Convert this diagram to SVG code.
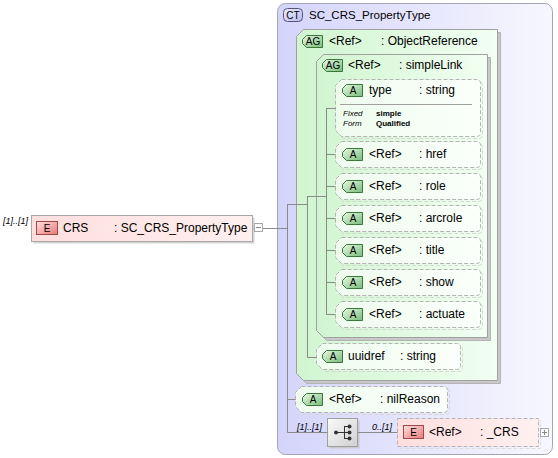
<svg xmlns="http://www.w3.org/2000/svg" width="558" height="458" viewBox="0 0 558 458">
<defs>
<linearGradient id="gCT" x1="0" y1="0" x2="1" y2="0"><stop offset="0" stop-color="#d4d4fb"/><stop offset="1" stop-color="#f7f7ff"/></linearGradient>
<linearGradient id="gAG" x1="0" y1="0" x2="1" y2="0"><stop offset="0" stop-color="#d0f5d0"/><stop offset="1" stop-color="#f2fff2"/></linearGradient>
<linearGradient id="gAttr" x1="0" y1="0" x2="1" y2="0"><stop offset="0" stop-color="#eefcee"/><stop offset="1" stop-color="#fbfffb"/></linearGradient>
<linearGradient id="gBadgeA" x1="0" y1="0" x2="1" y2="1"><stop offset="0" stop-color="#e8fae8"/><stop offset="1" stop-color="#78bc78"/></linearGradient>
<linearGradient id="gElem" x1="0" y1="0" x2="1" y2="0"><stop offset="0" stop-color="#ffdede"/><stop offset="1" stop-color="#fff0f0"/></linearGradient>
<linearGradient id="gBadgeE" x1="0" y1="0" x2="1" y2="1"><stop offset="0" stop-color="#ffe0e0"/><stop offset="1" stop-color="#e87878"/></linearGradient>
<linearGradient id="gBadgeCT" x1="0" y1="0" x2="1" y2="1"><stop offset="0" stop-color="#eeeeff"/><stop offset="1" stop-color="#b8b8ee"/></linearGradient>
<linearGradient id="gSeq" x1="0" y1="0" x2="1" y2="1"><stop offset="0" stop-color="#fafafa"/><stop offset="1" stop-color="#d0d0d0"/></linearGradient>
</defs>
<style>
text{font-family:"Liberation Sans",Arial,sans-serif;fill:#000}
.lbl{font-size:12px}
.hdr{font-size:11.5px}
.card{font-size:9px;font-style:italic}
.det{font-size:8px;font-weight:bold}
.deti{font-size:8px;font-style:italic}
.badge{font-size:10px;text-anchor:middle}
.conn{stroke:#8a8a8a;stroke-width:1;fill:none}
.attr{fill:url(#gAttr);stroke:#b4b4b4;stroke-dasharray:4,2}
.attrsh{fill:none;stroke:#d6d6d6;stroke-dasharray:4,2}
.bA{fill:url(#gBadgeA);stroke:#3c763c}
.bE{fill:url(#gBadgeE);stroke:#a04848}
.ag{fill:url(#gAG);stroke:#a0a0a0}
.agsh{fill:#c8c8c8;stroke:#b4b4b4}
.pm{fill:#fff;stroke:#a8a8a8}
</style>

<g id="ct-SC_CRS_PropertyType">
<rect x="277.5" y="3.5" width="275" height="451" rx="8" fill="url(#gCT)" stroke="#a4a4b4"/>
<rect x="283.5" y="8.5" width="19" height="13" rx="4" fill="url(#gBadgeCT)" stroke="#555577"/>
<text class="badge" x="293" y="19">CT</text>
<text class="hdr" x="309" y="19">SC_CRS_PropertyType</text>
</g>

<g id="ag-ObjectReference">
<path class="agsh" d="M306.5,32.5 H500.5 V383.5 H306.5 L299.5,376.5 V39.5 Z"/>
<path class="ag" d="M303.5,29.5 H497.5 V380.5 H303.5 L296.5,373.5 V36.5 Z"/>
<path class="bA" d="M306.5,35.5 H322.5 V47.5 H306.5 L302.5,43.5 V39.5 Z"/>
<text class="badge" x="313" y="45">AG</text>
<text class="lbl" x="329" y="45">&lt;Ref&gt;</text>
<text class="lbl" x="381" y="45">: ObjectReference</text>
</g>

<g id="ag-simpleLink">
<path class="agsh" d="M326.5,57.5 H490.5 V340.5 H326.5 L319.5,333.5 V64.5 Z"/>
<path class="ag" d="M323.5,54.5 H487.5 V337.5 H323.5 L316.5,330.5 V61.5 Z"/>
<path class="bA" d="M326.5,59.5 H342.5 V71.5 H326.5 L322.5,67.5 V63.5 Z"/>
<text class="badge" x="333" y="69">AG</text>
<text class="lbl" x="348" y="69">&lt;Ref&gt;</text>
<text class="lbl" x="399" y="69">: simpleLink</text>
</g>

<g id="attr-type">
<path class="attrsh" d="M343.5,81.5 H478.5 Q482.5,81.5 482.5,85.5 V134.5 Q482.5,138.5 478.5,138.5 H343.5 L337.5,132.5 V87.5 Z"/>
<path class="attr" d="M341.5,79.5 H476.5 Q480.5,79.5 480.5,83.5 V132.5 Q480.5,136.5 476.5,136.5 H341.5 L335.5,130.5 V85.5 Z"/>
<path class="bA" d="M346.5,84.5 H362.5 V96.5 H346.5 L342.5,92.5 V88.5 Z"/>
<text class="badge" x="353" y="94">A</text>
<text class="lbl" x="369" y="94">type</text>
<text class="lbl" x="419" y="94">: string</text>
<line x1="340" y1="104.5" x2="472" y2="104.5" stroke="#a0a0a0"/>
<text class="deti" x="343" y="116">Fixed</text>
<text class="det" x="376" y="116">simple</text>
<text class="deti" x="343" y="126">Form</text>
<text class="det" x="376" y="126">Qualified</text>
</g>

<g id="attr-href">
<path class="attrsh" d="M343.5,143.5 H478.5 Q482.5,143.5 482.5,147.5 V165.5 Q482.5,169.5 478.5,169.5 H343.5 L337.5,163.5 V149.5 Z"/>
<path class="attr" d="M341.5,141.5 H476.5 Q480.5,141.5 480.5,145.5 V163.5 Q480.5,167.5 476.5,167.5 H341.5 L335.5,161.5 V147.5 Z"/>
<path class="bA" d="M346.5,148.5 H362.5 V160.5 H346.5 L342.5,156.5 V152.5 Z"/>
<text class="badge" x="353" y="158">A</text>
<text class="lbl" x="369" y="158">&lt;Ref&gt;</text>
<text class="lbl" x="419" y="158">: href</text>
</g>

<g id="attr-role">
<path class="attrsh" d="M343.5,175.5 H478.5 Q482.5,175.5 482.5,179.5 V197.5 Q482.5,201.5 478.5,201.5 H343.5 L337.5,195.5 V181.5 Z"/>
<path class="attr" d="M341.5,173.5 H476.5 Q480.5,173.5 480.5,177.5 V195.5 Q480.5,199.5 476.5,199.5 H341.5 L335.5,193.5 V179.5 Z"/>
<path class="bA" d="M346.5,180.5 H362.5 V192.5 H346.5 L342.5,188.5 V184.5 Z"/>
<text class="badge" x="353" y="190">A</text>
<text class="lbl" x="369" y="190">&lt;Ref&gt;</text>
<text class="lbl" x="419" y="190">: role</text>
</g>

<g id="attr-arcrole">
<path class="attrsh" d="M343.5,207.5 H478.5 Q482.5,207.5 482.5,211.5 V229.5 Q482.5,233.5 478.5,233.5 H343.5 L337.5,227.5 V213.5 Z"/>
<path class="attr" d="M341.5,205.5 H476.5 Q480.5,205.5 480.5,209.5 V227.5 Q480.5,231.5 476.5,231.5 H341.5 L335.5,225.5 V211.5 Z"/>
<path class="bA" d="M346.5,212.5 H362.5 V224.5 H346.5 L342.5,220.5 V216.5 Z"/>
<text class="badge" x="353" y="222">A</text>
<text class="lbl" x="369" y="222">&lt;Ref&gt;</text>
<text class="lbl" x="419" y="222">: arcrole</text>
</g>

<g id="attr-title">
<path class="attrsh" d="M343.5,239.5 H478.5 Q482.5,239.5 482.5,243.5 V261.5 Q482.5,265.5 478.5,265.5 H343.5 L337.5,259.5 V245.5 Z"/>
<path class="attr" d="M341.5,237.5 H476.5 Q480.5,237.5 480.5,241.5 V259.5 Q480.5,263.5 476.5,263.5 H341.5 L335.5,257.5 V243.5 Z"/>
<path class="bA" d="M346.5,244.5 H362.5 V256.5 H346.5 L342.5,252.5 V248.5 Z"/>
<text class="badge" x="353" y="254">A</text>
<text class="lbl" x="369" y="254">&lt;Ref&gt;</text>
<text class="lbl" x="419" y="254">: title</text>
</g>

<g id="attr-show">
<path class="attrsh" d="M343.5,271.5 H478.5 Q482.5,271.5 482.5,275.5 V293.5 Q482.5,297.5 478.5,297.5 H343.5 L337.5,291.5 V277.5 Z"/>
<path class="attr" d="M341.5,269.5 H476.5 Q480.5,269.5 480.5,273.5 V291.5 Q480.5,295.5 476.5,295.5 H341.5 L335.5,289.5 V275.5 Z"/>
<path class="bA" d="M346.5,276.5 H362.5 V288.5 H346.5 L342.5,284.5 V280.5 Z"/>
<text class="badge" x="353" y="286">A</text>
<text class="lbl" x="369" y="286">&lt;Ref&gt;</text>
<text class="lbl" x="419" y="286">: show</text>
</g>

<g id="attr-actuate">
<path class="attrsh" d="M343.5,303.5 H478.5 Q482.5,303.5 482.5,307.5 V325.5 Q482.5,329.5 478.5,329.5 H343.5 L337.5,323.5 V309.5 Z"/>
<path class="attr" d="M341.5,301.5 H476.5 Q480.5,301.5 480.5,305.5 V323.5 Q480.5,327.5 476.5,327.5 H341.5 L335.5,321.5 V307.5 Z"/>
<path class="bA" d="M346.5,308.5 H362.5 V320.5 H346.5 L342.5,316.5 V312.5 Z"/>
<text class="badge" x="353" y="318">A</text>
<text class="lbl" x="369" y="318">&lt;Ref&gt;</text>
<text class="lbl" x="419" y="318">: actuate</text>
</g>

<g id="attr-uuidref">
<path class="attrsh" d="M324.5,345.5 H458.5 Q462.5,345.5 462.5,349.5 V367.5 Q462.5,371.5 458.5,371.5 H324.5 L318.5,365.5 V351.5 Z"/>
<path class="attr" d="M322.5,343.5 H456.5 Q460.5,343.5 460.5,347.5 V365.5 Q460.5,369.5 456.5,369.5 H322.5 L316.5,363.5 V349.5 Z"/>
<path class="bA" d="M326.5,350.5 H342.5 V362.5 H326.5 L322.5,358.5 V354.5 Z"/>
<text class="badge" x="333" y="360">A</text>
<text class="lbl" x="348" y="360">uuidref</text>
<text class="lbl" x="400" y="360">: string</text>
</g>

<g id="attr-nilReason">
<path class="attrsh" d="M303.5,388.5 H445.5 Q449.5,388.5 449.5,392.5 V410.5 Q449.5,414.5 445.5,414.5 H303.5 L297.5,408.5 V394.5 Z"/>
<path class="attr" d="M301.5,386.5 H443.5 Q447.5,386.5 447.5,390.5 V408.5 Q447.5,412.5 443.5,412.5 H301.5 L295.5,406.5 V392.5 Z"/>
<path class="bA" d="M306.5,393.5 H322.5 V405.5 H306.5 L302.5,401.5 V397.5 Z"/>
<text class="badge" x="313" y="403">A</text>
<text class="lbl" x="329" y="403">&lt;Ref&gt;</text>
<text class="lbl" x="380" y="403">: nilReason</text>
</g>

<g id="seq">
<text class="card" x="297" y="430">[1]..[1]</text>
<rect x="329.5" y="420.5" width="30" height="28" fill="#c8c8c8" stroke="none"/>
<rect x="327.5" y="418.5" width="30" height="28" fill="url(#gSeq)" stroke="#a0a0a0"/>
<line x1="336" y1="432.5" x2="344" y2="432.5" stroke="#333"/>
<line x1="344.5" y1="426" x2="344.5" y2="439" stroke="#333"/>
<line x1="344" y1="426.5" x2="349" y2="426.5" stroke="#333"/>
<line x1="344" y1="438.5" x2="349" y2="438.5" stroke="#333"/>
<line x1="344" y1="432.5" x2="349" y2="432.5" stroke="#333"/>
<circle cx="336" cy="432.5" r="2" fill="#333"/>
<circle cx="349.5" cy="426.5" r="2" fill="#333"/>
<circle cx="349.5" cy="432.5" r="2" fill="#333"/>
<circle cx="349.5" cy="438.5" r="2" fill="#333"/>
</g>

<g id="el-_CRS">
<text class="card" x="372" y="430">0..[1]</text>
<rect x="399.5" y="420.5" width="141" height="28" fill="none" stroke="#dcdcdc" stroke-dasharray="4,2"/>
<rect x="397.5" y="418.5" width="141" height="28" fill="url(#gElem)" stroke="#b4b4b4" stroke-dasharray="4,2"/>
<rect x="403.5" y="425.5" width="20" height="13" class="bE"/>
<text class="badge" x="413.5" y="436">E</text>
<text class="lbl" x="429" y="436">&lt;Ref&gt;</text>
<text class="lbl" x="480" y="436">: _CRS</text>
<rect x="540.5" y="428.5" width="8" height="8" class="pm"/>
<path d="M542,432.5 H547 M544.5,430 V435" stroke="#888"/>
</g>

<g id="el-CRS">
<text class="card" x="3" y="224">[1]..[1]</text>
<rect x="33.5" y="217.5" width="221" height="26" fill="#d4d4d4" stroke="none"/>
<rect x="31.5" y="215.5" width="221" height="26" fill="url(#gElem)" stroke="#a8a8a8"/>
<rect x="36.5" y="221.5" width="21" height="13" class="bE"/>
<text class="badge" x="47" y="232">E</text>
<text class="lbl" x="63" y="232">CRS</text>
<text class="lbl" x="114" y="232">: SC_CRS_PropertyType</text>
<rect x="254.5" y="223.5" width="8" height="8" class="pm"/>
<path d="M256,227.5 H261" stroke="#888"/>
</g>

<g id="connectors" class="conn">
<path d="M263,228.5 H287.5"/>
<path d="M287.5,204 V432.5"/>
<path d="M287.5,204.5 H307.5"/>
<path d="M287.5,399.5 H295.5"/>
<path d="M287.5,432.5 H327.5"/>
<path d="M357.5,432.5 H397.5"/>
<path d="M307.5,196 V357.5 H316.5"/>
<path d="M307.5,196.5 H326.5"/>
<path d="M326.5,108 V314.5"/>
<path d="M326.5,108.5 H335.5"/>
<path d="M326.5,154.5 H335.5"/>
<path d="M326.5,186.5 H335.5"/>
<path d="M326.5,218.5 H335.5"/>
<path d="M326.5,250.5 H335.5"/>
<path d="M326.5,282.5 H335.5"/>
<path d="M326.5,314.5 H335.5"/>
</g>
</svg>
